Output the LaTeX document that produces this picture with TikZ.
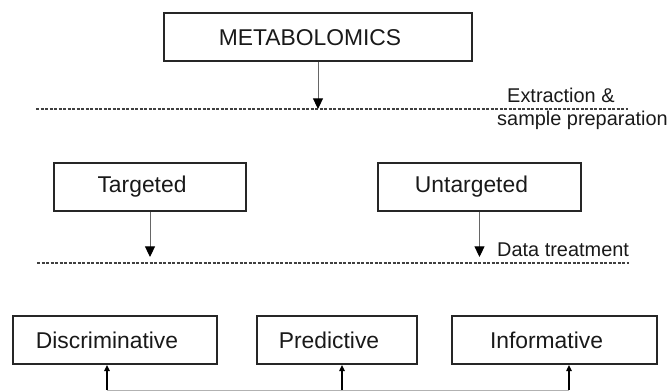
\documentclass[tikz,border=0pt]{standalone}
\usepackage{fontspec}
\setmainfont{Liberation Sans}
\usetikzlibrary{arrows.meta}

\begin{document}
\begin{tikzpicture}[x=0.3mm,y=-0.3mm,
        >={Triangle[width=3mm,length=3.2mm,color=black]},
        box/.style={draw=black!85,line width=0.6mm,minimum height=14.4mm,inner sep=0pt,
          font=\fontsize{19.5}{22}\selectfont,text=black!90,
          execute at end node=\hspace*{4.8mm}},
        level/.style={draw=black!75,line width=0.35mm,dash pattern=on 0.9mm off 0.45mm},
        link/.style={->,draw=black!60,line width=0.3mm},
        feed/.style={-{Triangle[width=1.6mm,length=1.8mm]},draw=black,line width=0.4mm},
        note/.style={font=\fontsize{17}{20}\selectfont,text=black!90,inner sep=0pt,anchor=west}]

  \useasboundingbox (0,0) rectangle (668,392);

  % boxes
  \node[box,minimum width=92.4mm] (meta) at (318,37.5) {METABOLOMICS};
  \node[box,minimum width=57.6mm] (targ) at (150,187) {Targeted};
  \node[box,minimum width=60.9mm] (untarg) at (479.5,187) {Untargeted};
  \node[box,minimum width=61.2mm] (disc) at (115,340) {Discriminative};
  \node[box,minimum width=48mm] (pred) at (337,340) {Predictive};
  \node[box,minimum width=61.5mm] (info) at (554.5,340) {Informative};

  % stage lines and labels
  \coordinate (cut1w) at (36,109);
  \coordinate (cut1e) at (628,109);
  \coordinate (cut2w) at (37,263);
  \coordinate (cut2e) at (629,263);
  \coordinate (tip2) at (0,257);
  \draw[level] (cut1w) -- (cut1e);
  \draw[level] (cut2w) -- (cut2e);
  \node[note] (extr) at (507,95) {Extraction \&};
  \node[note] (prep) at (497,120) {sample preparation};
  \node[note] (treat) at (497,250) {Data treatment};

  \draw[link] (meta) -- (meta |- cut1w);
  \draw[link] (targ) -- (targ |- tip2);
  \draw[link] (untarg) -- (untarg |- tip2);

  % feedback bus
  \coordinate (bus1) at (107,390);
  \coordinate (bus2) at (342,390);
  \coordinate (bus3) at (569,390);
  \draw[draw=black!30,line width=0.3mm] (bus1) -- (bus3);
  \draw[feed] (bus1) -- (bus1 |- disc.south);
  \draw[feed] (bus2) -- (bus2 |- pred.south);
  \draw[feed] (bus3) -- (bus3 |- info.south);

\end{tikzpicture}
\end{document}
